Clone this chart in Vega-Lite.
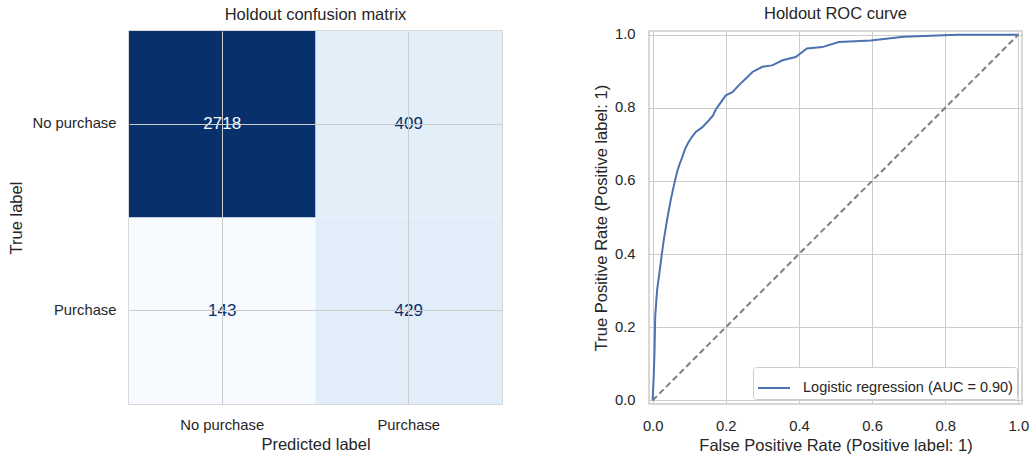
{
  "$schema": "https://vega.github.io/schema/vega-lite/v6.json",
  "background": "white",
  "padding": {"left": 7, "top": 5, "right": 10, "bottom": 5},
  "datasets": {
    "cm": [
      {"true_label": "No purchase", "predicted": "No purchase", "count": 2718},
      {"true_label": "No purchase", "predicted": "Purchase", "count": 409},
      {"true_label": "Purchase", "predicted": "No purchase", "count": 143},
      {"true_label": "Purchase", "predicted": "Purchase", "count": 429}
    ],
    "roc": [
      {"fpr": 0.0, "tpr": 0.0},
      {"fpr": 0.003, "tpr": 0.068},
      {"fpr": 0.005, "tpr": 0.13},
      {"fpr": 0.007, "tpr": 0.23},
      {"fpr": 0.012, "tpr": 0.3},
      {"fpr": 0.02, "tpr": 0.36},
      {"fpr": 0.025, "tpr": 0.4},
      {"fpr": 0.031, "tpr": 0.442},
      {"fpr": 0.04, "tpr": 0.497},
      {"fpr": 0.05, "tpr": 0.551},
      {"fpr": 0.059, "tpr": 0.592},
      {"fpr": 0.068, "tpr": 0.629},
      {"fpr": 0.074, "tpr": 0.647},
      {"fpr": 0.081, "tpr": 0.665},
      {"fpr": 0.089, "tpr": 0.688},
      {"fpr": 0.098, "tpr": 0.706},
      {"fpr": 0.107, "tpr": 0.72},
      {"fpr": 0.118, "tpr": 0.734},
      {"fpr": 0.136, "tpr": 0.747},
      {"fpr": 0.154, "tpr": 0.766},
      {"fpr": 0.165, "tpr": 0.779},
      {"fpr": 0.173, "tpr": 0.796},
      {"fpr": 0.186, "tpr": 0.814},
      {"fpr": 0.2, "tpr": 0.834},
      {"fpr": 0.218, "tpr": 0.843},
      {"fpr": 0.236, "tpr": 0.862},
      {"fpr": 0.255, "tpr": 0.88},
      {"fpr": 0.273, "tpr": 0.898},
      {"fpr": 0.3, "tpr": 0.912},
      {"fpr": 0.327, "tpr": 0.916},
      {"fpr": 0.355, "tpr": 0.93},
      {"fpr": 0.391, "tpr": 0.939},
      {"fpr": 0.422, "tpr": 0.962},
      {"fpr": 0.464, "tpr": 0.966},
      {"fpr": 0.509, "tpr": 0.98},
      {"fpr": 0.596, "tpr": 0.984},
      {"fpr": 0.687, "tpr": 0.994},
      {"fpr": 0.833, "tpr": 1.0},
      {"fpr": 1.0, "tpr": 1.0}
    ],
    "chance": [
      {"fpr": 0, "tpr": 0},
      {"fpr": 1, "tpr": 1}
    ]
  },
  "hconcat": [
    {
      "width": 373,
      "height": 373,
      "title": "Holdout confusion matrix",
      "data": {"name": "cm"},
      "encoding": {
        "x": {
          "field": "predicted",
          "type": "nominal",
          "sort": ["No purchase", "Purchase"],
          "scale": {"paddingInner": 0, "paddingOuter": 0},
          "axis": {"title": "Predicted label", "labelAngle": 0, "bandPosition": 0.5, "zindex": 1}
        },
        "y": {
          "field": "true_label",
          "type": "nominal",
          "sort": ["No purchase", "Purchase"],
          "scale": {"paddingInner": 0, "paddingOuter": 0},
          "axis": {"title": "True label", "labelAngle": 0, "bandPosition": 0.5, "zindex": 1, "titlePadding": 8}
        }
      },
      "layer": [
        {
          "mark": {"type": "rect"},
          "encoding": {
            "color": {
              "field": "count",
              "type": "quantitative",
              "scale": {
                "domain": [143, 464.875, 786.75, 1108.625, 1430.5, 1752.375, 2074.25, 2396.125, 2718],
                "range": ["#f7fbff", "#deebf7", "#c6dbef", "#9ecae1", "#6baed6", "#4292c6", "#2171b5", "#08519c", "#08306b"]
              },
              "legend": null
            }
          }
        },
        {
          "mark": {"type": "text", "fontSize": 17},
          "encoding": {
            "text": {"field": "count", "type": "quantitative", "format": "d"},
            "color": {"condition": {"test": "datum.count > 1430", "value": "#f7fbff"}, "value": "#08306b"}
          }
        }
      ]
    },
    {
      "width": 373,
      "height": 373,
      "title": {"text": "Holdout ROC curve", "offset": 4},
      "layer": [
        {
          "data": {"name": "chance"},
          "mark": {"type": "line", "color": "#7f7f7f", "strokeDash": [6, 3.5], "strokeWidth": 2},
          "encoding": {
            "x": {"field": "fpr", "type": "quantitative"},
            "y": {"field": "tpr", "type": "quantitative"}
          }
        },
        {
          "data": {"name": "roc"},
          "mark": {"type": "line", "strokeWidth": 2},
          "encoding": {
            "x": {
              "field": "fpr",
              "type": "quantitative",
              "scale": {"domain": [-0.01, 1.01], "nice": false, "zero": false},
              "axis": {"title": "False Positive Rate (Positive label: 1)", "values": [0, 0.2, 0.4, 0.6, 0.8, 1.0], "format": ".1f", "labelPadding": 14}
            },
            "y": {
              "field": "tpr",
              "type": "quantitative",
              "scale": {"domain": [-0.01, 1.01], "nice": false, "zero": false},
              "axis": {"title": "True Positive Rate (Positive label: 1)", "values": [0, 0.2, 0.4, 0.6, 0.8, 1.0], "format": ".1f", "labelPadding": 14}
            },
            "color": {
              "datum": "Logistic regression (AUC = 0.90)",
              "type": "nominal",
              "scale": {"range": ["#4c72b0"]},
              "legend": {"orient": "bottom-right", "title": null}
            }
          }
        }
      ]
    }
  ],
  "spacing": 89,
  "config": {
    "font": "Liberation Sans",
    "view": {"stroke": "#cccccc", "strokeWidth": 1.5},
    "title": {"fontSize": 16.5, "fontWeight": "normal", "color": "#262626", "offset": 8},
    "axis": {
      "domain": false,
      "ticks": false,
      "grid": true,
      "gridColor": "#cccccc",
      "gridWidth": 1,
      "labelFontSize": 14.8,
      "labelColor": "#262626",
      "labelPadding": 13,
      "titleFontSize": 16.5,
      "titleFontWeight": "normal",
      "titleColor": "#262626",
      "titlePadding": 5
    },
    "legend": {
      "symbolType": "stroke",
      "symbolSize": 1024,
      "symbolStrokeWidth": 2,
      "labelFontSize": 14.5,
      "labelColor": "#262626",
      "labelOffset": 12,
      "labelLimit": 400,
      "fillColor": "white",
      "strokeColor": "#cccccc",
      "padding": 4,
      "cornerRadius": 3,
      "offset": 5
    }
  }
}
